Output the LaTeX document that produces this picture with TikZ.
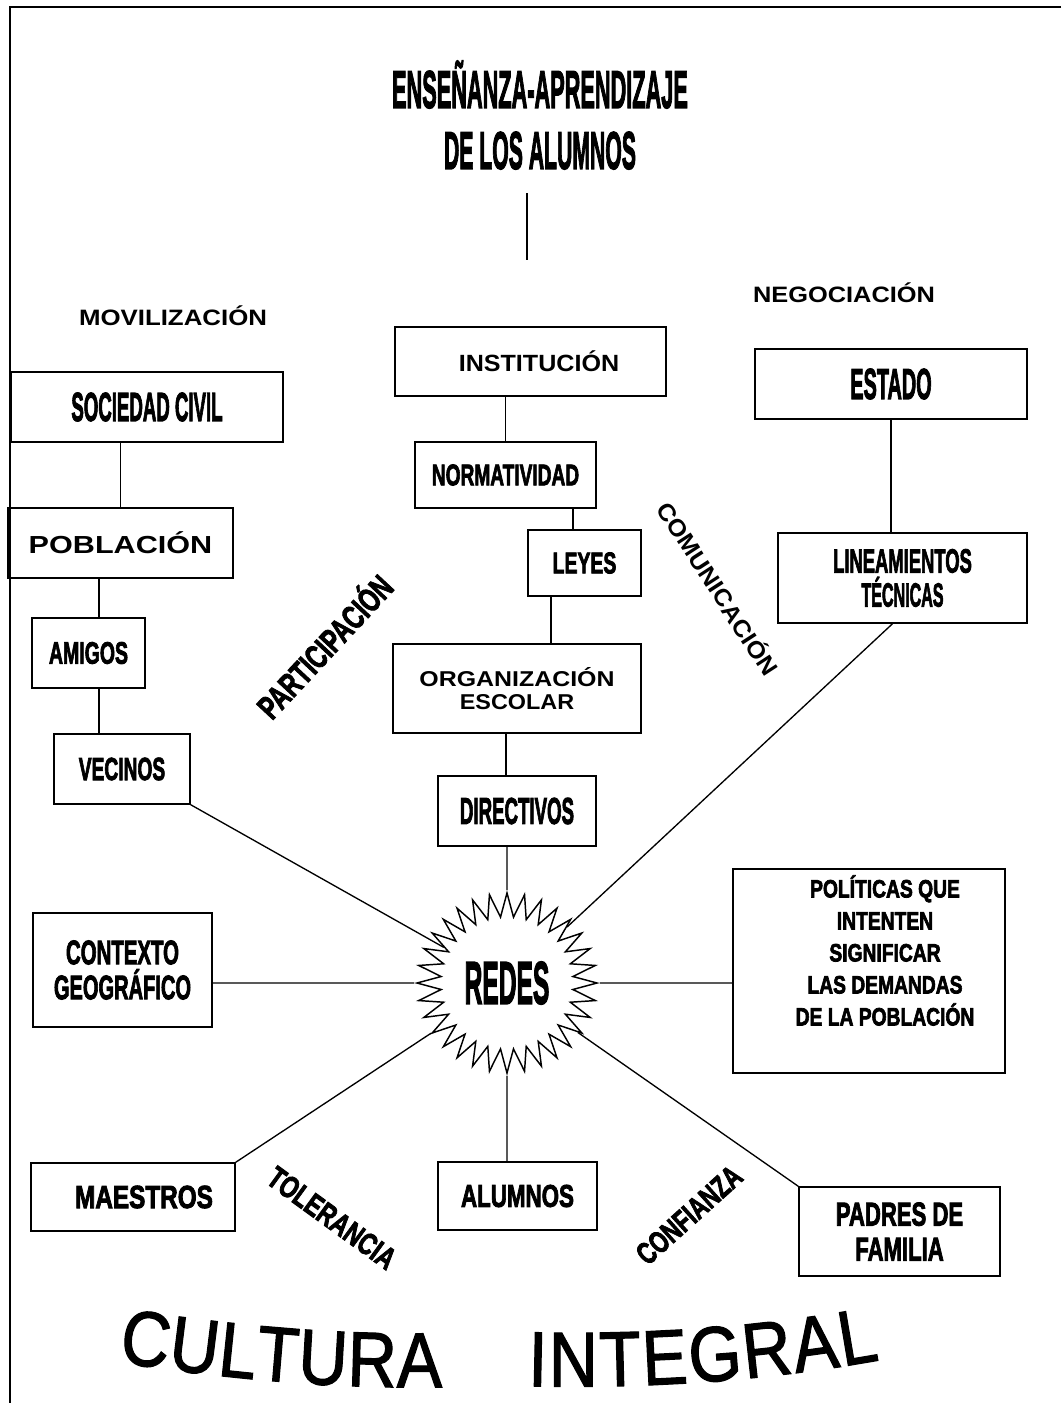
\documentclass[tikz,border=0pt]{standalone}
\usepackage{graphicx}
\usepackage{fontspec}
\setmainfont{Liberation Sans}
\newfontfamily\narrow{Liberation Sans}[BoldFeatures={FakeBold=3}]
\newfontfamily\cultfont{Liberation Sans}[FakeStretch=0.87, FakeBold=1.5]
\usetikzlibrary{shapes.geometric,decorations.text}

\newcommand{\sq}[2]{\scalebox{#1}[1]{#2}}
\newcommand{\sz}[2]{\fontsize{#1pt}{#2pt}\selectfont}

\begin{document}
\begin{tikzpicture}
    [x=0.75pt, y=-0.75pt,
    box/.style={draw, line width=1.1pt, inner sep=0pt, align=center},
    tag/.style={inner sep=0pt, align=center},
    link/.style={line width=1pt},
    hub/.style={star, star points=32, star point ratio=1.36, minimum size=135pt,
        draw, line width=1.1pt, inner sep=0pt}]
    \useasboundingbox[fill=white] (0,0) rectangle (1061,1403);
    \draw[line width=1.2pt] (1061,7) -- (10,7) -- (10,1403);

    % title
    \node[tag, font=\narrow\bfseries\sz{39.75}{45.75}] (title) at (540,115)
        {\sq{0.41}{ENSEÑANZA-APRENDIZAJE}\\\sq{0.40}{DE LOS ALUMNOS}};
    \coordinate (stemtop) at (527,193);
    \coordinate (stembot) at (527,260);
    \draw[link] (stemtop) -- (stembot);

    % left column
    \node[tag, font=\bfseries\sz{16.7}{20}, anchor=base] (movil) at (173,325.5) {\sq{1.16}{MOVILIZACIÓN}};
    \node[box, minimum width=204pt, minimum height=52.5pt, font=\narrow\bfseries\sz{30.4}{35}] (soc) at (147,407) {\sq{0.46}{SOCIEDAD CIVIL}};
    \node[box, minimum width=168.75pt, minimum height=52.5pt, font=\bfseries\sz{18.5}{22}] (pob) at (120.5,543) {\sq{1.24}{POBLACIÓN}};
    \node[box, minimum width=84.75pt, minimum height=52.5pt, font=\narrow\bfseries\sz{23.2}{27}] (amigos) at (88.5,653) {\sq{0.63}{AMIGOS}};
    \node[box, minimum width=102pt, minimum height=52.5pt, font=\narrow\bfseries\sz{24}{28}] (vecinos) at (122,769) {\sq{0.60}{VECINOS}};

    % middle column
    \node[box, minimum width=203.25pt, minimum height=51.75pt, font=\bfseries\sz{17.6}{21}] (inst) at (530.5,361.5) {\hspace*{12.75pt}\sq{1.07}{INSTITUCIÓN}};
    \node[box, minimum width=135.75pt, minimum height=49.5pt, font=\narrow\bfseries\sz{22.4}{26}] (norm) at (505.5,475) {\sq{0.64}{NORMATIVIDAD}};
    \node[box, minimum width=84.75pt, minimum height=49.5pt, font=\narrow\bfseries\sz{22.4}{26}] (leyes) at (584.5,563) {\sq{0.65}{LEYES}};
    \node[box, minimum width=186pt, minimum height=66.75pt, font=\bfseries\sz{16.1}{17.6}] (org) at (517,688.5)
        {\sq{1.16}{ORGANIZACIÓN}\\\sq{1.09}{ESCOLAR}};
    \node[box, minimum width=118.5pt, minimum height=52.5pt, font=\narrow\bfseries\sz{28}{32}] (dir) at (517,811) {\sq{0.50}{DIRECTIVOS}};

    % right column
    \node[tag, font=\bfseries\sz{16.7}{20}, anchor=base] (negoc) at (844,302) {\sq{1.14}{NEGOCIACIÓN}};
    \node[box, minimum width=204pt, minimum height=52.5pt, font=\narrow\bfseries\sz{32.4}{36}] (estado) at (891,384) {\sq{0.46}{ESTADO}};
    \node[box, minimum width=186.75pt, minimum height=67.5pt, font=\narrow\bfseries\sz{25.1}{25.5}] (lin) at (902.5,578)
        {\sq{0.55}{LINEAMIENTOS}\\\sq{0.48}{TÉCNICAS}};

    % hub
    \node[hub, font=\narrow\bfseries\sz{45}{50}] (redes) at (507,983) {\sq{0.41}{REDES}};
    \node[box, minimum width=134.25pt, minimum height=85.5pt, font=\narrow\bfseries\sz{25.5}{26.25}] (ctx) at (122.5,970)
        {\sq{0.60}{CONTEXTO}\\\sq{0.59}{GEOGRÁFICO}};
    \node[box, minimum width=204pt, minimum height=153pt, font=\narrow\bfseries\sz{18.75}{24}] (pol) at (869,971)
        {\begin{tabular}{@{\hspace{24pt}}c@{}}
        \sq{0.77}{POLÍTICAS QUE}\\\sq{0.77}{INTENTEN}\\\sq{0.77}{SIGNIFICAR}\\
        \sq{0.77}{LAS DEMANDAS}\\\sq{0.77}{DE LA POBLACIÓN}\\\mbox{}
        \end{tabular}};
    \node[box, minimum width=153pt, minimum height=51pt, font=\narrow\bfseries\sz{24}{28}] (mae) at (133,1197) {\hspace*{16.5pt}\sq{0.76}{MAESTROS}};
    \node[box, minimum width=119.25pt, minimum height=51pt, font=\narrow\bfseries\sz{23.6}{27}] (alu) at (517.5,1196) {\sq{0.71}{ALUMNOS}};
    \node[box, minimum width=150.75pt, minimum height=66.75pt, font=\narrow\bfseries\sz{24.75}{26.25}] (pad) at (899.5,1231.5)
        {\sq{0.67}{PADRES DE}\\\sq{0.67}{FAMILIA}};

    % slanted words
    \node[tag, font=\narrow\bfseries\sz{25}{30}, rotate=47] (partic) at (323,645) {\sq{0.70}{PARTICIPACIÓN}};
    \node[tag, font=\bfseries\sz{17.8}{21}, rotate=-57] (comun) at (719,588) {\sq{1.06}{COMUNICACIÓN}};
    \node[tag, font=\narrow\bfseries\sz{23}{27}, rotate=-36] (toler) at (332,1218) {\sq{0.75}{TOLERANCIA}};
    \node[tag, font=\narrow\bfseries\sz{23}{27}, rotate=42] (confi) at (689,1215) {\sq{0.72}{CONFIANZA}};

    % tree links
    \draw[link] (pob.north) -- (pob.north |- soc.south);
    \draw[link] ([xshift=7.9pt]amigos.north) -- ([xshift=7.9pt]amigos.north |- pob.south);
    \draw[link] ([xshift=7.9pt]amigos.south) -- ([xshift=7.9pt]amigos.south |- vecinos.north);
    \draw[link] (norm.north) -- (norm.north |- inst.south);
    \draw[link] ([xshift=-8.6pt]leyes.north) -- ([xshift=-8.6pt]leyes.north |- norm.south);
    \draw[link] ([xshift=-25.1pt]leyes.south) -- ([xshift=-25.1pt]leyes.south |- org.north);
    \draw[link] ([xshift=-8.25pt]dir.north) -- ([xshift=-8.25pt]dir.north |- org.south);
    \draw[link] (estado.south) -- (estado.south |- lin.north);

    % spokes
    \draw[link] (redes) -- (redes |- dir.south);
    \draw[link] (vecinos.south east) -- (redes);
    \draw[link] ([xshift=-7.5pt]lin.south) -- (redes);
    \draw[link] (redes) -- (redes -| ctx.east);
    \draw[link] (redes) -- (redes -| pol.west);
    \draw[link] (mae.north east) -- (redes);
    \draw[link] (redes) -- (redes |- alu.north);
    \draw[link] (pad.north west) -- (redes);

    % bottom words
    \path[decorate, decoration={text along path, text align={fit to path},
        text={|\cultfont\sz{58.5}{60}|CULTURA}}]
        (118,1362) .. controls (220,1378) and (330,1389) .. (442,1387);
    \path[decorate, decoration={text along path, text align={fit to path},
        text={|\cultfont\sz{58.5}{60}|INTEGRAL}}]
        (528,1386) .. controls (650,1389) and (770,1380) .. (880,1360);
\end{tikzpicture}
\end{document}
